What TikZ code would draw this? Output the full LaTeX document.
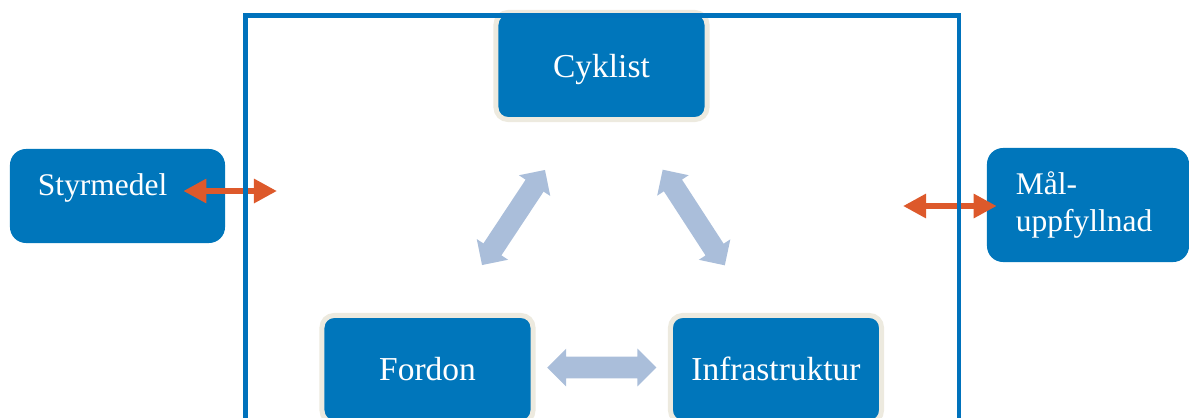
\documentclass[tikz,border=0pt]{standalone}
\usepackage{fontspec}
\setmainfont{Liberation Serif}
\usetikzlibrary{shapes.arrows, arrows.meta, calc}
\definecolor{boxblue}{RGB}{0, 118, 187}
\definecolor{frameblue}{RGB}{0, 114, 188}
\definecolor{rimbeige}{RGB}{237, 234, 223}
\definecolor{linkblue}{RGB}{170, 190, 218}
\definecolor{policyorange}{RGB}{221, 89, 43}

\tikzset{
  corebox/.style={fill=boxblue, draw=rimbeige, line width=0.125cm, rounded corners=0.3cm,
    minimum width=5.275cm, minimum height=2.675cm, text depth=0pt, text=white,
    font=\fontsize{23.8}{28}\selectfont},
  sidebox/.style={fill=boxblue, rounded corners=0.4cm, text=white, align=left,
    inner xsep=0.7cm, font=\fontsize{22.4}{26.3}\selectfont},
  linkarrow/.style={double arrow, fill=linkblue, double arrow head extend=0.2cm,
    double arrow tip angle=90, inner xsep=0pt, inner ysep=0.2625cm},
  policyarrow/.style={draw=policyorange, line width=0.15cm,
    {Triangle[length=0.575cm, width=0.575cm]}-{Triangle[length=0.575cm, width=0.575cm]}}
}

\begin{document}
\begin{tikzpicture}[x=0.025cm, y=-0.025cm]
  \useasboundingbox (0,0) rectangle (1189,417);
  \clip (0,0) rectangle (1189,417);

  \node[corebox] (cyk) at (601.5,66) {Cyklist};
  \node[corebox] (ford) at (427.5,369) {Fordon};
  \node[corebox] (infra) at (776,369) {Infrastruktur};

  \node[sidebox, text width=3.975cm, minimum height=2.35cm, text depth=0.59cm] (sty) at (117.5,196) {Styrmedel};
  \node[sidebox, text width=3.6cm, inner xsep=0.725cm, minimum height=2.85cm] (mal) at (1088,205) {Mål-\\uppfyllnad};

  \node[linkarrow, minimum height=2.85cm, rotate=56.5] (linkCF) at ($(cyk)!0.5!(ford)+(-1,0)$) {};
  \node[linkarrow, minimum height=2.85cm, rotate=-57] (linkCI) at ($(cyk)!0.5!(infra)+(5,0)$) {};
  \node[linkarrow, minimum height=2.725cm] (linkFI) at ($(ford)!0.5!(infra)+(0,-1.5)$) {};

  \coordinate (styTip) at (277,191);
  \draw[policyarrow] ($(sty.east)+(-42,-5)$) -- (styTip);
  \coordinate (malTip) at (903,206);
  \draw[policyarrow] (malTip) -- ($(mal.west)+(10,1)$);

  \draw[frameblue, line width=0.1125cm] (245.5,15.5) rectangle (959,450);
\end{tikzpicture}
\end{document}
